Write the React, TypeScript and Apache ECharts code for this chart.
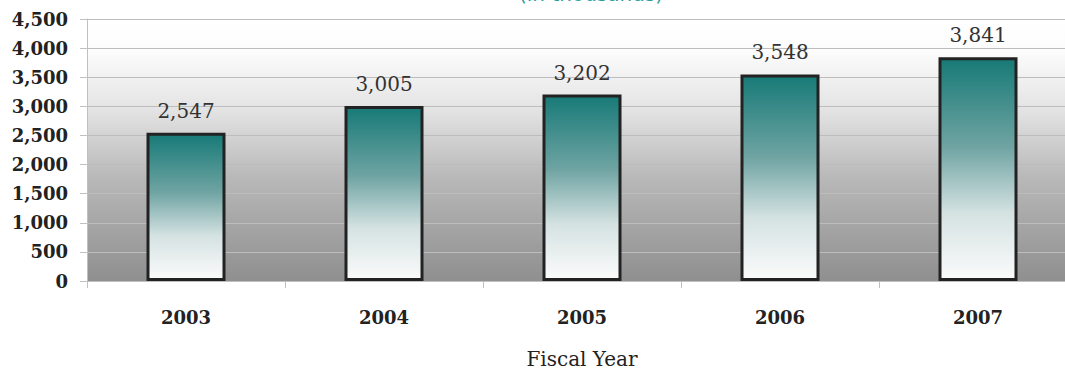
import React, { useEffect, useRef } from "react";
import * as echarts from "echarts";

const categories = ["2003", "2004", "2005", "2006", "2007"];
const values = [2547, 3005, 3202, 3548, 3841];
const yTicks = [0, 500, 1000, 1500, 2000, 2500, 3000, 3500, 4000, 4500];

const serif = "'DejaVu Serif', serif";

export default function App() {
  const ref = useRef<HTMLDivElement>(null);
  useEffect(() => {
    if (!ref.current) return;
    const chart = echarts.init(ref.current, null, { renderer: "svg" });
    chart.setOption({
      animation: false,
      backgroundColor: "#ffffff",
      title: {
        text: "(in thousands)",
        left: 514,
        top: -21,
        textStyle: { color: "#2a9d99", fontSize: 20, fontWeight: "normal", fontFamily: "'DejaVu Sans', sans-serif" },
      },
      grid: {
        left: 87,
        right: 0,
        top: 19,
        bottom: 90,
        show: true,
        borderWidth: 0,
        backgroundColor: new echarts.graphic.LinearGradient(0, 0, 0, 1, [
          { offset: 0, color: "#ffffff" },
          { offset: 0.12, color: "#fcfcfc" },
          { offset: 0.35, color: "#e3e3e3" },
          { offset: 0.6, color: "#b9b9b9" },
          { offset: 1, color: "#8f8f8f" },
        ]),
      },
      xAxis: {
        type: "category",
        data: categories,
        axisLine: { show: true, lineStyle: { color: "#c0c0c0" } },
        axisTick: { show: true, length: 7, lineStyle: { color: "#c0c0c0" } },
        axisLabel: { margin: 27, fontSize: 18, fontWeight: "bold", fontFamily: serif, color: "#222" },
        name: "Fiscal Year",
        nameLocation: "middle",
        nameGap: 68,
        nameTextStyle: { fontSize: 20, fontFamily: serif, color: "#222" },
      },
      yAxis: {
        type: "value",
        min: yTicks[0],
        max: yTicks[yTicks.length - 1],
        interval: 500,
        axisLine: { show: true, lineStyle: { color: "#c0c0c0" } },
        axisTick: { show: true, length: 7, lineStyle: { color: "#c0c0c0" } },
        splitLine: { show: true, lineStyle: { color: "#bdbdbd" } },
        axisLabel: {
          margin: 19,
          fontSize: 18,
          fontWeight: "bold",
          fontFamily: serif,
          color: "#222",
          formatter: (v: number) => v.toLocaleString("en-US"),
        },
      },
      series: [
        {
          type: "bar",
          data: values,
          barWidth: 79,
          itemStyle: {
            borderColor: "#222",
            borderWidth: 3,
            color: new echarts.graphic.LinearGradient(0, 0, 0, 1, [
              { offset: 0, color: "#177a77" },
              { offset: 0.4, color: "#6fa4a3" },
              { offset: 0.7, color: "#d5e2e2" },
              { offset: 1, color: "#fbfbfb" },
            ]),
          },
          label: {
            show: true,
            position: "top",
            distance: 12,
            fontSize: 20,
            fontFamily: serif,
            color: "#333",
            formatter: (p: any) => Number(p.value).toLocaleString("en-US"),
          },
        },
      ],
    });
    return () => chart.dispose();
  }, []);
  return <div ref={ref} style={{ position: "fixed", left: 0, top: 0, width: 1077, height: 374 }} />;
}
